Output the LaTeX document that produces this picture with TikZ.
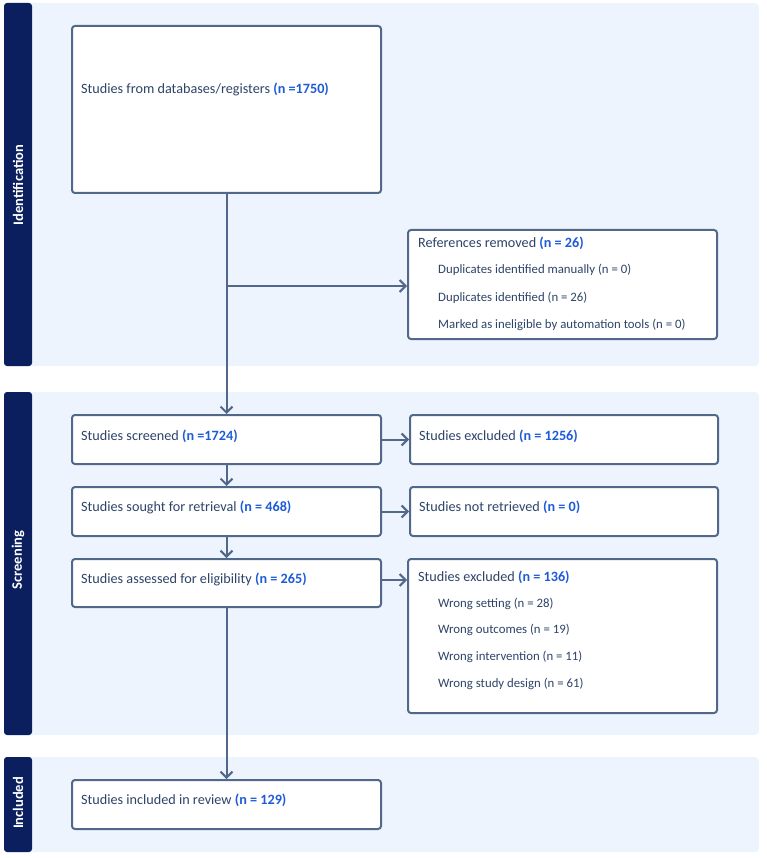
\documentclass[tikz,border=0pt]{standalone}
\usepackage{fontspec}
\setmainfont{Carlito}
\usetikzlibrary{arrows.meta}
\definecolor{navy}{HTML}{0B1F5E}
\definecolor{panel}{HTML}{EEF4FD}
\definecolor{edge}{HTML}{52688A}
\definecolor{txt}{HTML}{2E4468}
\definecolor{num}{HTML}{1E5BD8}
\newcommand{\nn}[1]{\textcolor{num}{\bfseries #1}}
\begin{document}
\begin{tikzpicture}[x=1pt,y=-1pt,
  panelbg/.style={fill=panel, rounded corners=4pt},
  sidebar/.style={fill=navy, rounded corners=3pt},
  sidelabel/.style={text=white, font=\fontsize{14.5}{17}\selectfont\bfseries, rotate=90},
  box/.style={draw=edge, line width=2pt, fill=white, rounded corners=3pt, anchor=north west, inner sep=0pt},
  head/.style={text=txt, font=\fontsize{14.2}{17}\selectfont, anchor=west, inner sep=0pt},
  item/.style={text=txt, font=\fontsize{12.8}{15}\selectfont, anchor=west, inner sep=0pt},
  arr/.style={draw=edge, line width=2pt, -{Straight Barb[length=6pt,width=12pt,line width=2pt]}}]
\useasboundingbox (0,0) rectangle (766,858);
% panels
\fill[panelbg] (4,3) rectangle (759,366);
\fill[panelbg] (4,392) rectangle (759,735);
\fill[panelbg] (4,757) rectangle (759,852);
\fill[sidebar] (4,3) rectangle (32,366);
\fill[sidebar] (4,392) rectangle (32,735);
\fill[sidebar] (4,757) rectangle (32,852);
\node[sidelabel] (lid) at (18,185) {Identification};
\node[sidelabel] (lsc) at (18,560) {Screening};
\node[sidelabel] (lin) at (18,803) {Included};
% boxes
\node[box, minimum width=309pt, minimum height=167pt] (src) at (71,25) {};
\node[box, minimum width=309pt, minimum height=109pt] (refs) at (407,229) {};
\node[box, minimum width=309pt, minimum height=49pt] (scr) at (71,414) {};
\node[box, minimum width=308pt, minimum height=49pt] (exa) at (409,414) {};
\node[box, minimum width=309pt, minimum height=49pt] (sgt) at (71,486) {};
\node[box, minimum width=308pt, minimum height=49pt] (ntr) at (409,486) {};
\node[box, minimum width=309pt, minimum height=48pt] (ass) at (71,558) {};
\node[box, minimum width=309pt, minimum height=154pt] (exb) at (407,558) {};
\node[box, minimum width=309pt, minimum height=49pt] (inc) at (71,779) {};
% texts
\node[head] (tsrc) at (81,89) {Studies from databases/registers \nn{(n =1750)}};
\node[head] (trefs) at (418,243) {References removed \nn{(n = 26)}};
\node[item] (tr1) at (438,270) {Duplicates identified manually (n = 0)};
\node[item] (tr2) at (438,298) {Duplicates identified (n = 26)};
\node[item] (tr3) at (438,325) {Marked as ineligible by automation tools (n = 0)};
\node[head] (tscr) at (81,436) {Studies screened \nn{(n =1724)}};
\node[head] (texa) at (419,436) {Studies excluded \nn{(n = 1256)}};
\node[head] (tsgt) at (81,507) {Studies sought for retrieval \nn{(n = 468)}};
\node[head] (tntr) at (419,507) {Studies not retrieved \nn{(n = 0)}};
\node[head] (tass) at (81,579) {Studies assessed for eligibility \nn{(n = 265)}};
\node[head] (texb) at (418,577) {Studies excluded \nn{(n = 136)}};
\node[item] (te1) at (438,604) {Wrong setting (n = 28)};
\node[item] (te2) at (438,630) {Wrong outcomes (n = 19)};
\node[item] (te3) at (438,657) {Wrong intervention (n = 11)};
\node[item] (te4) at (438,684) {Wrong study design (n = 61)};
\node[head] (tinc) at (81,800) {Studies included in review \nn{(n = 129)}};
% connectors
\coordinate (br) at (225.5,286);
\draw[arr] (src.south) -- (scr.north);
\draw[arr] (br) -- (br -| refs.west);
\draw[arr] (scr.east) -- (exa.west);
\draw[arr] (scr.south) -- (sgt.north);
\draw[arr] (sgt.east) -- (ntr.west);
\draw[arr] (sgt.south) -- (ass.north);
\coordinate (ae) at (380,580);
\draw[arr] (ae) -- (ae -| exb.west);
\draw[arr] (ass.south) -- (inc.north);
\end{tikzpicture}
\end{document}
